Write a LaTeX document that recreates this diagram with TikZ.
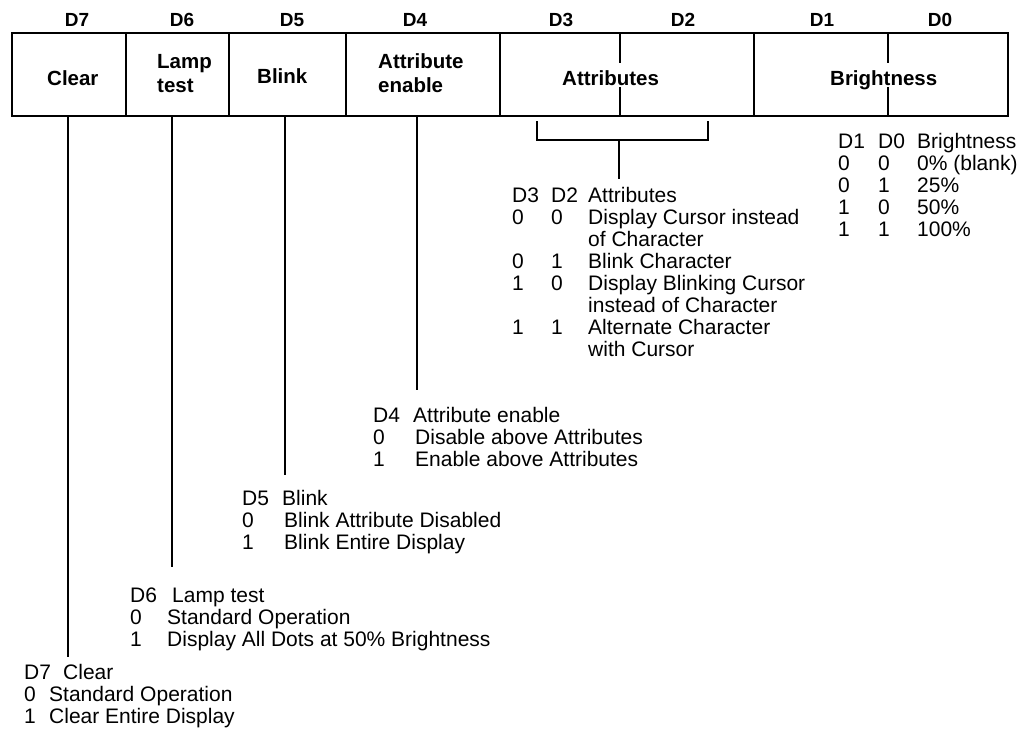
\documentclass[tikz,border=0pt]{standalone}
\usepackage{fontspec}
\setmainfont{Liberation Sans}
\usetikzlibrary{positioning}
\tikzset{
  field/.style={draw, line width=1.4pt, minimum height=83pt, inner sep=0pt, outer sep=0pt, anchor=north west},
  fieldname/.style={inner sep=0pt, anchor=base west, font=\fontsize{20.5}{24}\selectfont\bfseries},
  bitname/.style={inner sep=0pt, anchor=base, font=\fontsize{19}{20}\selectfont\bfseries},
  legend/.style={inner sep=0pt, anchor=base west, font=\fontsize{21}{22}\selectfont},
  wire/.style={line width=1.4pt},
}
\begin{document}
\begin{tikzpicture}[x=1pt,y=-1pt]
\useasboundingbox (0,0) rectangle (1018,736);
% register fields
\node[field, minimum width=114pt] (clear) at (12,33) {};
\node[field, minimum width=103pt, right=0pt of clear] (lamp) {};
\node[field, minimum width=117pt, right=0pt of lamp] (blink) {};
\node[field, minimum width=154pt, right=0pt of blink] (attren) {};
\node[field, minimum width=254pt, right=0pt of attren] (attr) {};
\node[field, minimum width=254pt, right=0pt of attr] (bright) {};
\draw[wire] (620,33) -- (620,63) (620,87) -- (620,116);
\draw[wire] (888,33) -- (888,63) (888,87) -- (888,116);
% bit numbers
\node[bitname] (b7) at (77,26) {D7};
\node[bitname] (b6) at (182,26) {D6};
\node[bitname] (b5) at (292,26) {D5};
\node[bitname] (b4) at (415,26) {D4};
\node[bitname] (b3) at (561,26) {D3};
\node[bitname] (b2) at (683,26) {D2};
\node[bitname] (b1) at (822,26) {D1};
\node[bitname] (b0) at (940,26) {D0};
% field names
\node[fieldname] (nclear) at (47,85) {Clear};
\node[fieldname] (nlamp) at (157,68) {\begin{tabular}[t]{@{}l@{}}Lamp\\test\end{tabular}};
\node[fieldname] (nblink) at (257,83) {Blink};
\node[fieldname] (nattren) at (378,68) {\begin{tabular}[t]{@{}l@{}}Attribute\\enable\end{tabular}};
\node[fieldname] (nattr) at (562,85) {Attributes};
\node[fieldname] (nbright) at (830,85) {Brightness};
% legends
\node[legend] (l7) at (24,679) {\begin{tabular}[t]{@{}p{25pt}@{}l@{}}
  \multicolumn{2}{@{}l@{}}{\makebox[39pt][l]{D7}Clear}\\
  0 & Standard Operation\\
  1 & Clear Entire Display
\end{tabular}};
\node[legend] (l6) at (130,602) {\begin{tabular}[t]{@{}p{37pt}@{}l@{}}
  \multicolumn{2}{@{}l@{}}{\makebox[42pt][l]{D6}Lamp test}\\
  0 & Standard Operation\\
  1 & Display All Dots at 50\% Brightness
\end{tabular}};
\node[legend] (l5) at (242,505) {\begin{tabular}[t]{@{}p{42pt}@{}l@{}}
  \multicolumn{2}{@{}l@{}}{\makebox[40pt][l]{D5}Blink}\\
  0 & Blink Attribute Disabled\\
  1 & Blink Entire Display
\end{tabular}};
\node[legend] (l4) at (373,422) {\begin{tabular}[t]{@{}p{42pt}@{}l@{}}
  \multicolumn{2}{@{}l@{}}{\makebox[40pt][l]{D4}Attribute enable}\\
  0 & Disable above Attributes\\
  1 & Enable above Attributes
\end{tabular}};
\node[legend] (l32) at (512,202) {\begin{tabular}[t]{@{}p{39pt}@{}p{37pt}@{}l@{}}
  D3 & D2 & Attributes\\
  0 & 0 & Display Cursor instead\\
    &   & of Character\\
  0 & 1 & Blink Character\\
  1 & 0 & Display Blinking Cursor\\
    &   & instead of Character\\
  1 & 1 & Alternate Character\\
    &   & with Cursor
\end{tabular}};
\node[legend] (l10) at (838,148) {\begin{tabular}[t]{@{}p{40pt}@{}p{39pt}@{}l@{}}
  D1 & D0 & Brightness\\
  0 & 0 & 0\% (blank)\\
  0 & 1 & 25\%\\
  1 & 0 & 50\%\\
  1 & 1 & 100\%
\end{tabular}};
% connectors
\coordinate (e7) at (68,657);
\coordinate (e6) at (172,567);
\coordinate (e5) at (285,475);
\coordinate (e4) at (417,390);
\draw[wire] (clear.south -| e7) -- (e7);
\draw[wire] (lamp.south -| e6) -- (e6);
\draw[wire] (blink.south -| e5) -- (e5);
\draw[wire] (attren.south -| e4) -- (e4);
\coordinate (brl) at (537,121);
\coordinate (brr) at (708,121);
\coordinate (brm) at (619,140);
\coordinate (e32) at (619,179);
\draw[wire] (brl) |- (brm) -| (brr);
\draw[wire] (brm) -- (e32);
\end{tikzpicture}
\end{document}
